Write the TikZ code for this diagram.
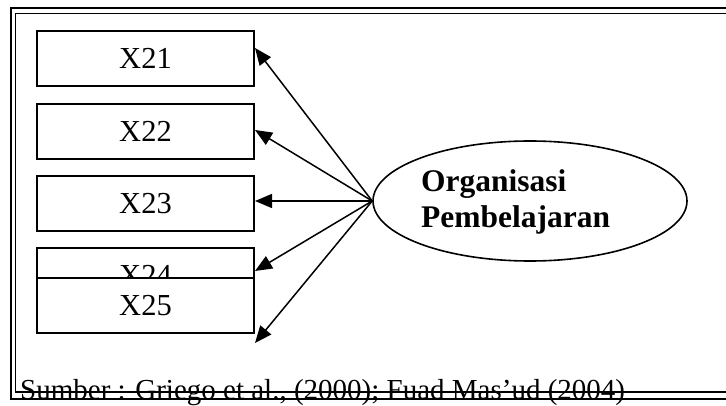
\documentclass[tikz,border=0pt]{standalone}
\usepackage{fontspec}
\setmainfont{Liberation Serif}
\usetikzlibrary{arrows.meta,shapes.geometric}

\begin{document}
\begin{tikzpicture}[x=1pt,y=-1pt,
  item/.style={draw, line width=1.7pt, fill=white, minimum width=217pt,
    minimum height=55pt, inner sep=0pt, font=\fontsize{30.5}{36}\selectfont},
  link/.style={line width=1.5pt, -{Triangle[length=17pt,width=14pt]}},
  frameout/.style={line width=2.6pt},
  framein/.style={line width=1.6pt},
]
\useasboundingbox (0,0) rectangle (726,406);
\clip (0,0) rectangle (726,406);

% double border, open towards the right
\draw[frameout] (745,8) -- (11,8) -- (11,399) -- (745,399);
\draw[framein] (745,13.7) -- (15.5,13.7) -- (15.5,392) -- (745,392);

% indicator boxes
\node[item] (x21) at (145.5,58.5)  {X21};
\node[item] (x22) at (145.5,131.5) {X22};
\node[item] (x23) at (145.5,203.5) {X23};
\node[item] (x24) at (145.5,275.5) {X24};
\node[item] (x25) at (145.5,305.5) {X25};

% latent construct
\node[ellipse, draw, line width=1.6pt, minimum width=314pt, minimum height=120pt,
  inner sep=0pt] (org) at (530,201) {};
\node[anchor=base west, align=left, inner sep=0pt,
  font=\fontsize{31.5}{36}\selectfont\bfseries] (lbl) at (421,228)
  {Organisasi\\Pembelajaran};

% arrow ends
\coordinate (t1) at (255,48);
\coordinate (t2) at (255,130);
\coordinate (t3) at (255,201);
\coordinate (t4) at (255,271);
\coordinate (t5) at (255,343);

\foreach \t in {t1,t2,t3,t4,t5}
  \draw[link] (org.west) -- (\t);

% source line
\node[anchor=base west, inner sep=0pt, font=\fontsize{29}{34}\selectfont] (src)
  at (20,399) {Sumber : Griego et al., (2000); Fuad Mas’ud (2004)};
\end{tikzpicture}
\end{document}
